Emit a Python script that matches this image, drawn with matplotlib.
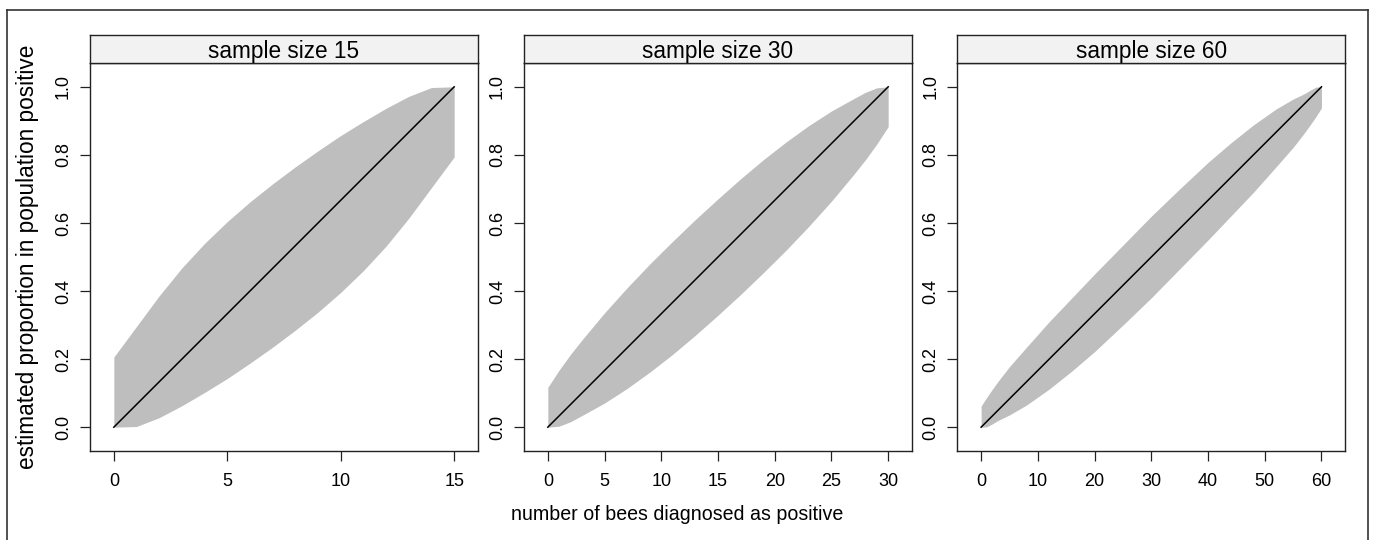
"""
Binomial proportion bands for three sample sizes
(lattice-style three-panel layout with strips)
"""

import numpy as np
import matplotlib.pyplot as plt
from matplotlib.lines import Line2D

plt.rcParams['font.family'] = ['Liberation Sans', 'DejaVu Sans']

# ---- data --------------------------------------------------------------
sample_sizes = [15, 30, 60]
strip_labels = ['sample size 15', 'sample size 30', 'sample size 60']

# sample size 15 (every count)
n15_x = [0, 1, 2, 3, 4, 5, 6, 7, 8, 9, 10, 11, 12, 13, 14, 15]
n15_upper = [0.206, 0.296, 0.386, 0.468, 0.540, 0.604, 0.662, 0.715,
             0.765, 0.812, 0.857, 0.898, 0.937, 0.972, 0.998, 1.000]
n15_lower = [0.000, 0.002, 0.028, 0.063, 0.102, 0.143, 0.188, 0.235,
             0.285, 0.338, 0.396, 0.460, 0.532, 0.614, 0.704, 0.794]

# sample size 30
n30_x = [0, 1, 2, 3, 5, 7, 9, 11, 13, 15, 17, 19, 21, 23, 25, 27, 28, 29, 30]
n30_upper = [0.117, 0.168, 0.214, 0.256, 0.336, 0.410, 0.480, 0.546, 0.610,
             0.671, 0.730, 0.786, 0.838, 0.886, 0.929, 0.966, 0.984, 0.997, 1.000]
n30_lower = [0.000, 0.003, 0.016, 0.034, 0.071, 0.114, 0.162, 0.214, 0.270,
             0.329, 0.390, 0.454, 0.520, 0.590, 0.664, 0.744, 0.786, 0.832, 0.883]

# sample size 60
n60_x = [0, 1, 2, 3, 5, 8, 12, 16, 20, 25, 30, 35, 40, 44, 48, 52, 55, 57, 58, 59, 60]
n60_upper = [0.062, 0.088, 0.112, 0.135, 0.178, 0.235, 0.310, 0.380, 0.450, 0.535,
             0.620, 0.700, 0.778, 0.835, 0.888, 0.935, 0.964, 0.980, 0.990, 0.999, 1.000]
n60_lower = [0.000, 0.001, 0.010, 0.020, 0.036, 0.065, 0.112, 0.165, 0.222, 0.300,
             0.380, 0.465, 0.550, 0.620, 0.690, 0.765, 0.822, 0.865, 0.888, 0.912, 0.938]

x_ticks = [[0, 5, 10, 15], [0, 5, 10, 15, 20, 25, 30], [0, 10, 20, 30, 40, 50, 60]]
y_ticks = [0.0, 0.2, 0.4, 0.6, 0.8, 1.0]

bands = [(n15_x, n15_lower, n15_upper),
         (n30_x, n30_lower, n30_upper),
         (n60_x, n60_lower, n60_upper)]

# ---- layout (figure fractions, from a 1373 x 540 canvas) -----------------
W, H = 1373, 540
fig = plt.figure(figsize=(W / 100, H / 100), dpi=100)

panel_left = [90, 524, 957.3]
panel_w = 388
plot_top, plot_bot = 63, 451
strip_top = 35

frame_col = '#222222'

for i, n in enumerate(sample_sizes):
    x, lo, hi = bands[i]
    x = np.array(x, dtype=float)

    ax = fig.add_axes([panel_left[i] / W, 1 - plot_bot / H,
                       panel_w / W, (plot_bot - plot_top) / H])
    ax.fill_between(x, lo, hi, color='#BEBEBE', linewidth=0)
    ax.plot(x, x / n, color='black', linewidth=1.1)

    pad_x = 0.07 * n
    ax.set_xlim(-pad_x, n + pad_x)
    ax.set_ylim(-0.07, 1.07)
    ax.set_xticks(x_ticks[i])
    ax.set_yticks(y_ticks)
    ax.set_yticklabels([f'{v:.1f}' for v in y_ticks], rotation=90, va='center')
    ax.tick_params(direction='out', length=7.5, width=0.9, color=frame_col,
                   labelsize=13)
    ax.tick_params(axis='x', pad=8)
    ax.tick_params(axis='y', pad=5.5)
    for s in ax.spines.values():
        s.set_color(frame_col)
        s.set_linewidth(1.0)

    # strip on top of the panel
    sax = fig.add_axes([panel_left[i] / W, 1 - plot_top / H,
                        panel_w / W, (plot_top - strip_top) / H])
    sax.set_facecolor('#F2F2F2')
    sax.set_xticks([])
    sax.set_yticks([])
    for s in sax.spines.values():
        s.set_color(frame_col)
        s.set_linewidth(1.0)
    sax.text(0.5, 0.42, strip_labels[i], ha='center', va='center',
             fontsize=16.3, transform=sax.transAxes)

fig.text(677 / W, 1 - 514 / H, 'number of bees diagnosed as positive',
         ha='center', va='center', fontsize=14.1)
fig.text(28 / W, 1 - 257 / H, 'estimated proportion in population positive',
         ha='center', va='center', rotation=90, fontsize=16.3)

# outer frame of the original graphic
for (x0, y0, x1, y1) in [(7, 10, 1368, 10), (7, 10, 7, 545), (1368, 10, 1368, 545)]:
    fig.add_artist(Line2D([x0 / W, x1 / W], [1 - y0 / H, 1 - y1 / H],
                          color='#333333', linewidth=1.2))

fig.savefig('out.png', dpi=100)
